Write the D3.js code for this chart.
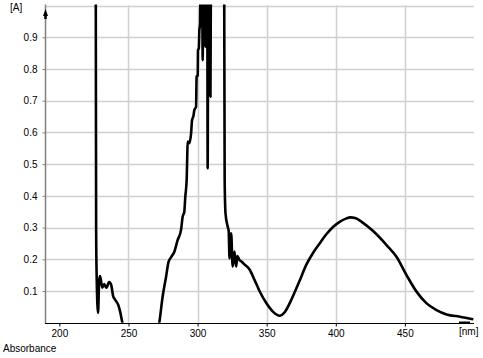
<!DOCTYPE html>
<html>
<head>
<meta charset="utf-8">
<script src="https://cdn.jsdelivr.net/npm/d3@7"></script>
<style>
  body { margin: 0; background: #fff; }
  text { font-family: "Liberation Sans", Arial, sans-serif; font-size: 10px; fill: #000; }
</style>
</head>
<body>
<svg id="chart" width="483" height="358"></svg>
<script>
// spectrum, values above 1 / below 0 run off the plot
const wavelength = [190, 225.8, 226.3, 226.6, 227.0, 228.0, 228.8, 229.5, 231.0, 232.4, 233.9, 236.0, 237.5, 238.9, 240.4, 242.6, 244.0, 245.5,
  250, 260, 270, 272.3, 274.7, 277.2, 279.0, 280.8, 283.2, 285.6, 288.0, 289.2, 290.4, 291.1, 292.1, 292.5, 292.8, 294.0, 295.3, 296.0, 296.9,
  297.7, 298.9, 299.3, 300.1, 300.3, 300.9, 301.3, 301.8, 302.5, 303.2, 303.7, 304.3, 305.0, 305.7, 306.3, 307.0, 307.3, 307.8, 308.6, 309.3,
  309.8, 312, 318.5, 319.2, 319.6, 320.2, 321.8, 322.5, 323.1, 324.3, 325.4, 326.7, 327.9, 328.8, 330.3, 332, 333.9, 337.6, 341.2, 344.8,
  349.7, 354.5, 359.3, 363.0, 367.8, 373.8, 378.7, 383.5, 388.3, 393.0, 398.0, 402.8, 407.7, 410.5, 414.0, 419.7, 427.0, 436.7, 443.9,
  451.2, 458.4, 465.7, 472.9, 480.2, 489.8, 499.5];
const absorbance = [3, 3, 1.2, 0.29, 0.141, 0.031, 0.134, 0.147, 0.110, 0.122, 0.110, 0.128, 0.119, 0.084, 0.072, 0.056, 0.034, 0.002,
  -0.08, -0.12, -0.05, 0.0, 0.082, 0.145, 0.192, 0.206, 0.224, 0.261, 0.292, 0.334, 0.350, 0.397, 0.450, 0.520, 0.571, 0.566, 0.597, 0.639, 0.650,
  0.671, 0.681, 0.776, 0.780, 0.860, 0.865, 0.923, 0.94, 1.3, 1.2, 0.828, 1.3, 0.95, 0.87, 1.3, 1.1, 0.487, 1.3, 0.95, 0.713,
  1.3, 2, 2, 1.2, 0.45, 0.345, 0.303, 0.29, 0.203, 0.282, 0.177, 0.224, 0.177, 0.21, 0.198, 0.192, 0.184, 0.168, 0.135, 0.100,
  0.062, 0.035, 0.022, 0.033, 0.072, 0.132, 0.183, 0.220, 0.250, 0.278, 0.302, 0.318, 0.329, 0.332, 0.330, 0.315, 0.289, 0.245, 0.208,
  0.150, 0.098, 0.061, 0.040, 0.026, 0.019, 0.011];

const xTicks = [200, 250, 300, 350, 400, 450];
const yTicks = [0.1, 0.2, 0.3, 0.4, 0.5, 0.6, 0.7, 0.8, 0.9];
const xGrid = [250, 300, 350, 400, 450];
const yGrid = [0.1, 0.2, 0.3, 0.4, 0.5, 0.6, 0.7, 0.8, 0.9, 1.0];

let svg = d3.select('#chart');

let plot = { left: 45, right: 474, top: 5.6, bottom: 322.7 };

let x = d3.scaleLinear().domain([189.6, 500]).range([plot.left, plot.right]);
let y = d3.scaleLinear().domain([0, 1]).range([plot.bottom, plot.top]);

let data = wavelength.map((w, i) => ({ w: w, a: absorbance[i] }));

svg.append('clipPath').attr('id', 'clip')
  .append('rect')
  .attr('x', plot.left).attr('y', plot.top - 1)
  .attr('width', plot.right - plot.left).attr('height', plot.bottom - plot.top + 1);

// grid
svg.selectAll('.hgrid')
  .data(yGrid)
  .enter()
  .append('line')
  .attr('class', 'hgrid')
  .attr('x1', plot.left).attr('x2', plot.right)
  .attr('y1', d => Math.round(y(d)) + 0.5).attr('y2', d => Math.round(y(d)) + 0.5)
  .attr('stroke', '#d0d0d0').attr('stroke-width', 1.5);

svg.selectAll('.vgrid')
  .data(xGrid)
  .enter()
  .append('line')
  .attr('class', 'vgrid')
  .attr('x1', d => Math.round(x(d)) + 0.5).attr('x2', d => Math.round(x(d)) + 0.5)
  .attr('y1', plot.top).attr('y2', plot.bottom)
  .attr('stroke', '#d0d0d0').attr('stroke-width', 1.5);

// axes
let xAxis = d3.axisBottom(x).tickValues(xTicks).tickSize(3).tickPadding(3).tickFormat(d3.format('d'));
let gx = svg.append('g').attr('transform', `translate(0,${Math.round(plot.bottom) + 0.5})`).call(xAxis);
gx.select('.domain').remove();
gx.selectAll('line').attr('stroke', '#000');
gx.selectAll('text').attr('font-family', null).attr('font-size', null).attr('dy', '0.7em');

let yAxis = d3.axisLeft(y).tickValues(yTicks).tickSize(3).tickPadding(5).tickFormat(d3.format('.1f'));
let gy = svg.append('g').attr('transform', `translate(${plot.left + 0.5},0)`).call(yAxis);
gy.select('.domain').remove();
gy.selectAll('line').attr('stroke', '#808080');
gy.selectAll('text').attr('font-family', null).attr('font-size', null);

svg.append('line')
  .attr('x1', plot.left + 0.5).attr('x2', plot.left + 0.5)
  .attr('y1', plot.top - 1).attr('y2', plot.bottom + 1)
  .attr('stroke', '#808080').attr('stroke-width', 1.5);

svg.append('line')
  .attr('x1', plot.left).attr('x2', plot.right)
  .attr('y1', Math.round(plot.bottom) + 0.5).attr('y2', Math.round(plot.bottom) + 0.5)
  .attr('stroke', '#000').attr('stroke-width', 1.2);

// arrow on the y axis
svg.append('path')
  .attr('d', `M${plot.left + 0.5},9 L${plot.left - 2},16 L${plot.left + 3},16 Z`)
  .attr('fill', '#000');
svg.append('line')
  .attr('x1', plot.left + 0.5).attr('x2', plot.left + 0.5)
  .attr('y1', 15).attr('y2', 19)
  .attr('stroke', '#000').attr('stroke-width', 2.5);

// little marker at the end of the x axis
svg.append('rect')
  .attr('x', 459).attr('y', 321.5).attr('width', 11).attr('height', 2.5)
  .attr('fill', '#000');

// spectrum
svg.append('path')
  .datum(data)
  .attr('clip-path', 'url(#clip)')
  .attr('fill', 'none')
  .attr('stroke', '#000')
  .attr('stroke-width', 2.6)
  .attr('stroke-linejoin', 'round')
  .attr('d', d3.line()
    .x(d => x(d.w))
    .y(d => y(d.a))
    .curve(d3.curveMonotoneX));

// labels
svg.append('text').attr('x', 10).attr('y', 11).text('[A]');
svg.append('text').attr('x', 459).attr('y', 335).text('[nm]');
svg.append('text').attr('x', 3).attr('y', 352).text('Absorbance');
</script>
</body>
</html>
